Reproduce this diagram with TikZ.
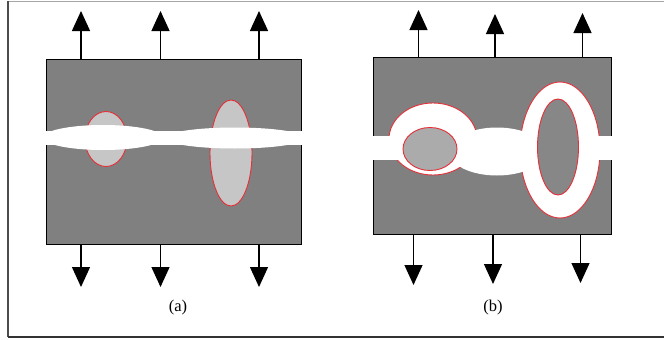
\documentclass[tikz,border=0pt]{standalone}
\usepackage{fontspec}
\setmainfont{Liberation Serif}
\usetikzlibrary{arrows.meta}
\definecolor{boxgray}{HTML}{808080}
\definecolor{lightfill}{HTML}{C6C6C6}
\definecolor{innerL}{HTML}{ABABAB}
\definecolor{innerR}{HTML}{878787}
\definecolor{ringred}{HTML}{E53038}
\begin{document}
\begin{tikzpicture}[x=1pt,y=-1pt,
  flux/.style={-{Triangle[width=18pt,length=20pt]}, line width=1.3pt, black},
  slab/.style={fill=boxgray, draw=black, line width=1pt, inner sep=0pt, anchor=north west},
  inclusion/.style={draw=ringred, line width=0.9pt},
  band/.style={fill=white, draw=none},
  caption/.style={font=\fontsize{16.5}{18}\selectfont, inner sep=0pt}]
\useasboundingbox (0,0) rectangle (664,340);
% outer frame
\draw[color=black!35, line width=1pt] (664,1) -- (8,1);
\draw[color=black!70, line width=1.2pt] (8,1) -- (8,337);
\draw[color=black!80, line width=1.6pt] (8,337) -- (664,337);

% ---------- panel (a) ----------
\node[slab, minimum width=255pt, minimum height=185pt] (boxa) at (46,59) {};
\begin{scope}
\clip (44,59) rectangle (304,244);
\fill[lightfill, inclusion] (106,139) ellipse [x radius=21, y radius=27.5];
\fill[lightfill, inclusion] (231,153) ellipse [x radius=21, y radius=53];
\fill[band] (103,137.5) ellipse [x radius=60, y radius=12.5];
\fill[band] (235,138) ellipse [x radius=70, y radius=10.5];
\fill[band] (44,130.5) rectangle (304,145);
\end{scope}
\fill[band] (44,131) rectangle (47,144);
\fill[band] (300,132) rectangle (304,144);

\coordinate (au1) at (81,11);
\coordinate (au2) at (160.5,11);
\coordinate (au3) at (259,11);
\coordinate (ad1) at (81,287);
\coordinate (ad2) at (160.5,287);
\coordinate (ad3) at (259,287);
\foreach \i in {1,2,3}{
  \draw[flux] (boxa.north -| au\i) -- (au\i);
  \draw[flux] (boxa.south -| ad\i) -- (ad\i);
}
\node[caption] (capa) at (178,308) {(a)};

% ---------- panel (b) ----------
\node[slab, minimum width=238pt, minimum height=177pt] (boxb) at (373,57) {};
\begin{scope}
\clip (371,57) rectangle (614,234);
\fill[white, inclusion] (433,139) ellipse [x radius=44, y radius=36];
\fill[white, inclusion] (560,150) ellipse [x radius=40, y radius=68];
\fill[band] (371,136) rectangle (614,160);
\fill[band] (497,151.5) ellipse [x radius=48, y radius=24];
\end{scope}
\fill[band] (370,137) rectangle (374,159);
\fill[band] (610,137) rectangle (614,159);
\fill[innerL, inclusion] (430,149) ellipse [x radius=27, y radius=21.5];
\fill[innerR, inclusion] (558,147) ellipse [x radius=20.5, y radius=48];

\coordinate (bu1) at (418.5,10);
\coordinate (bu2) at (495,14);
\coordinate (bu3) at (582.5,13);
\coordinate (bd1) at (413.5,285);
\coordinate (bd2) at (493,284);
\coordinate (bd3) at (580.5,283);
\foreach \i in {1,2,3}{
  \draw[flux] (boxb.north -| bu\i) -- (bu\i);
  \draw[flux] (boxb.south -| bd\i) -- (bd\i);
}
\node[caption] (capb) at (493,308) {(b)};
\end{tikzpicture}
\end{document}
